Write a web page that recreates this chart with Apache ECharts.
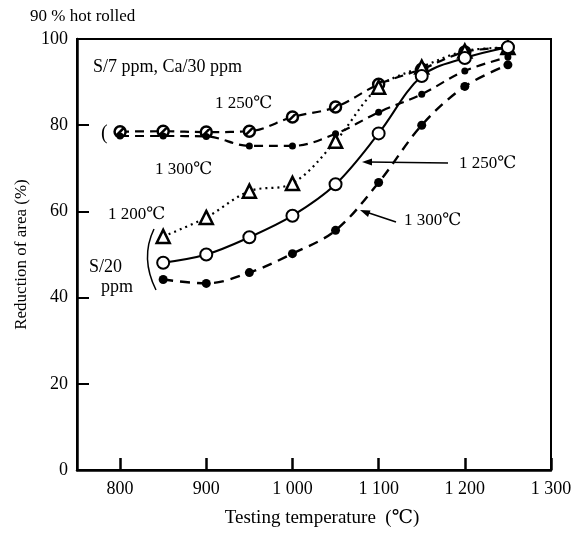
<!DOCTYPE html>
<html>
<head>
<meta charset="utf-8">
<script src="https://cdn.jsdelivr.net/npm/echarts@6/dist/echarts.min.js"></script>
<style>html,body{margin:0;padding:0;background:#fff;}#c{width:576px;height:534px;}</style>
</head>
<body>
<div id="c"></div>
<script>
// Data
var tempS7 = [800, 850, 900, 950, 1000, 1050, 1100, 1150, 1200, 1250];
var tempS20 = [850, 900, 950, 1000, 1050, 1100, 1150, 1200, 1250];
var s7_1250 = [78.5, 78.6, 78.4, 78.6, 81.9, 84.2, 89.5, 93.0, 97.0, 98.0];
var s7_1300 = [77.5, 77.5, 77.4, 75.2, 75.2, 78.0, 83.0, 87.2, 92.6, 95.8];
var s20_1200 = [54.2, 58.6, 64.7, 66.5, 76.3, 88.8, 93.5, 97.2, 98.0];
var s20_1250 = [48.1, 50.0, 54.0, 59.0, 66.3, 78.1, 91.4, 95.6, 98.1];
var s20_1300 = [44.2, 43.3, 45.8, 50.2, 55.6, 66.7, 80.0, 89.0, 94.0];
var xTicks = [800, 900, 1000, 1100, 1200, 1300];
var yTicks = [0, 20, 40, 60, 80, 100];

function pairs(xs, ys) { return xs.map(function (x, i) { return [x, ys[i]]; }); }

var FONT = '"Liberation Serif", "DejaVu Serif", "Noto Sans CJK SC", serif';
var slashCircle = 'path://M10,1 A9,9 0 1,0 10,19 A9,9 0 1,0 10,1 Z M4,16 L16,4';

var chart = echarts.init(document.getElementById('c'), null, {renderer: 'canvas'});

function fmtTemp(v) {
  var s = String(v);
  return s.length > 3 ? s.slice(0, 1) + ' ' + s.slice(1) : s;
}

var option = {
  backgroundColor: '#fff',
  animation: false,
  grid: {left: 77, right: 25, top: 39, bottom: 64, show: true, borderColor: '#000', borderWidth: 2},
  xAxis: {
    type: 'value', min: 750, max: 1300,
    name: 'Testing temperature  (℃)', nameLocation: 'middle', nameGap: 39,
    nameTextStyle: {fontFamily: FONT, fontSize: 19, color: '#000', padding: [0, 0, 0, 16]},
    axisLine: {show: true, lineStyle: {color: '#000', width: 2.5}},
    axisTick: {show: true, inside: true, length: 12, lineStyle: {color: '#000', width: 2.5}, customValues: xTicks},
    axisLabel: {fontFamily: FONT, fontSize: 18, color: '#000', margin: 10, customValues: xTicks, formatter: fmtTemp},
    splitLine: {show: false}
  },
  yAxis: {
    type: 'value', min: 0, max: 100, interval: 20,
    name: 'Reduction of area (%)', nameLocation: 'middle', nameGap: 47,
    nameTextStyle: {fontFamily: FONT, fontSize: 17, color: '#000'},
    axisLine: {show: true, lineStyle: {color: '#000', width: 2.5}},
    axisTick: {show: true, inside: true, length: 12, lineStyle: {color: '#000', width: 2}},
    axisLabel: {fontFamily: FONT, fontSize: 18, color: '#000', margin: 9, customValues: yTicks},
    splitLine: {show: false}
  },
  series: [
    {
      name: 'S/7 1250', type: 'line', smooth: 0.35, data: pairs(tempS7, s7_1250),
      symbol: slashCircle, symbolSize: 11,
      itemStyle: {color: '#fff', borderColor: '#000', borderWidth: 2.5},
      lineStyle: {color: '#000', width: 2.2, type: [9, 6]}
    },
    {
      name: 'S/7 1300', type: 'line', smooth: 0.35, data: pairs(tempS7, s7_1300),
      symbol: 'circle', symbolSize: 7,
      itemStyle: {color: '#000', borderColor: '#000', borderWidth: 0},
      lineStyle: {color: '#000', width: 2.2, type: [9, 6]}
    },
    {
      name: 'S/20 1200', type: 'line', smooth: 0.35, data: pairs(tempS20, s20_1200),
      symbol: 'triangle', symbolSize: 13,
      itemStyle: {color: '#fff', borderColor: '#000', borderWidth: 2.5},
      lineStyle: {color: '#000', width: 2.2, type: [2, 4]}
    },
    {
      name: 'S/20 1250', type: 'line', smooth: 0.35, data: pairs(tempS20, s20_1250),
      symbol: 'circle', symbolSize: 12,
      itemStyle: {color: '#fff', borderColor: '#000', borderWidth: 2},
      lineStyle: {color: '#000', width: 2}
    },
    {
      name: 'S/20 1300', type: 'line', smooth: 0.35, data: pairs(tempS20, s20_1300),
      symbol: 'circle', symbolSize: 9,
      itemStyle: {color: '#000', borderColor: '#000', borderWidth: 0},
      lineStyle: {color: '#000', width: 2.4, type: [10, 7]}
    }
  ],
  graphic: [
    {type: 'text', left: 30, top: 8, style: {text: '90 % hot rolled', font: '17px ' + FONT, fill: '#000'}},
    {type: 'text', left: 93, top: 58, style: {text: 'S/7 ppm, Ca/30 ppm', font: '18px ' + FONT, fill: '#000'}},
    {type: 'text', left: 215, top: 95, style: {text: '1 250℃', font: '17px ' + FONT, fill: '#000'}},
    {type: 'text', left: 155, top: 161, style: {text: '1 300℃', font: '17px ' + FONT, fill: '#000'}},
    {type: 'text', left: 108, top: 206, style: {text: '1 200℃', font: '17px ' + FONT, fill: '#000'}},
    {type: 'text', left: 89, top: 258, style: {text: 'S/20', font: '18px ' + FONT, fill: '#000'}},
    {type: 'text', left: 101, top: 278, style: {text: 'ppm', font: '18px ' + FONT, fill: '#000'}},
    {type: 'text', left: 459, top: 155, style: {text: '1 250℃', font: '17px ' + FONT, fill: '#000'}},
    {type: 'text', left: 404, top: 212, style: {text: '1 300℃', font: '17px ' + FONT, fill: '#000'}},
    {type: 'text', left: 101, top: 124, style: {text: '(', font: '20px ' + FONT, fill: '#000'}},
    {type: 'bezierCurve', shape: {x1: 154, y1: 229, x2: 156, y2: 290, cpx1: 140, cpy1: 258}, style: {stroke: '#000', lineWidth: 1.5, fill: null}},
    {type: 'line', shape: {x1: 448, y1: 163, x2: 368, y2: 162}, style: {stroke: '#000', lineWidth: 1.5}},
    {type: 'polygon', shape: {points: [[362, 162], [372, 158.5], [372, 165.5]]}, style: {fill: '#000'}},
    {type: 'line', shape: {x1: 396, y1: 222, x2: 366, y2: 212}, style: {stroke: '#000', lineWidth: 1.5}},
    {type: 'polygon', shape: {points: [[360, 210], [370.5, 210.5], [368, 217]]}, style: {fill: '#000'}}
  ]
};
chart.setOption(option);
</script>
</body>
</html>
